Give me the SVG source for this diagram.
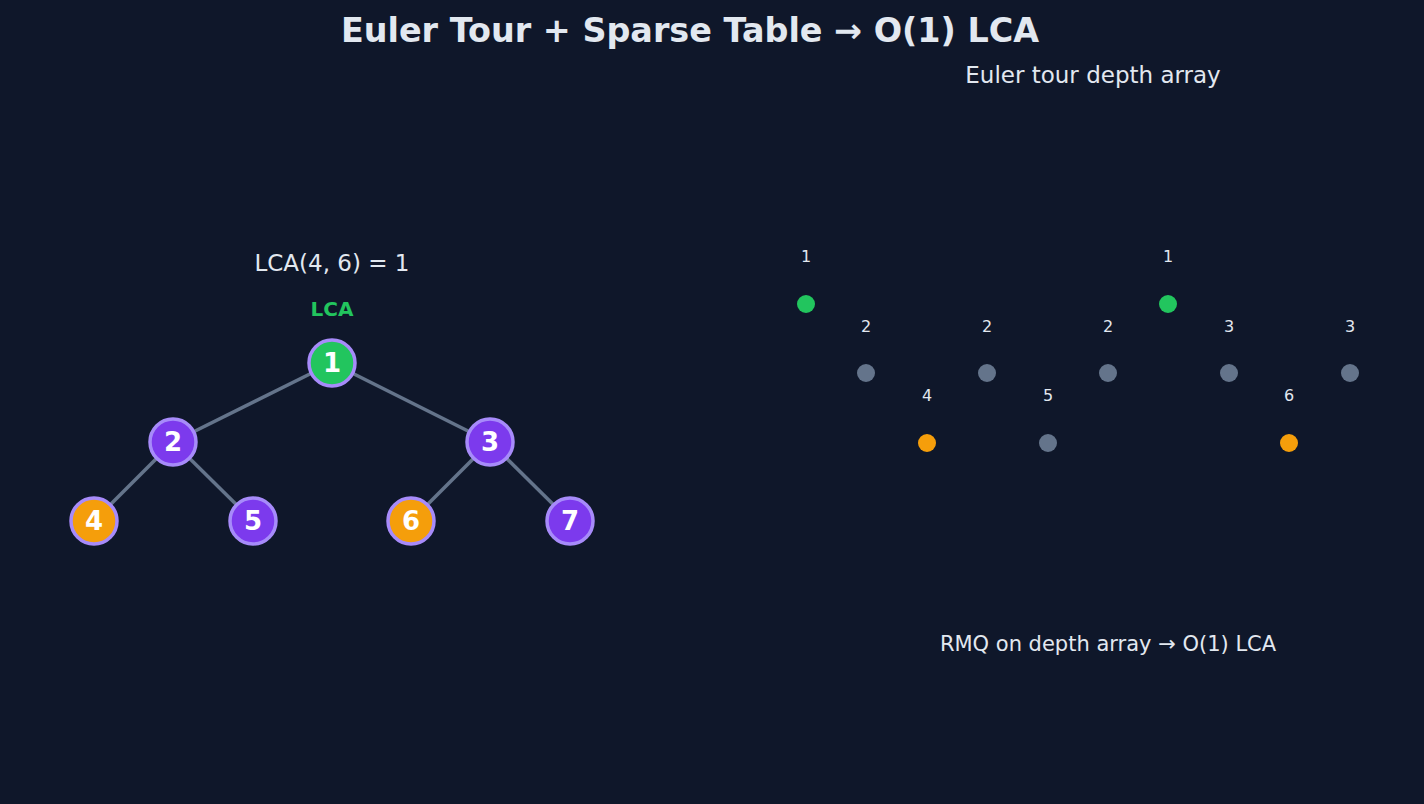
<svg xmlns="http://www.w3.org/2000/svg" width="1424" height="804" viewBox="0 0 1424 804">
<style>
text{font-family:"DejaVu Sans",sans-serif;fill:#e2e8f0}
.n circle{stroke:#a78bfa;stroke-width:3.5}
.n text{font-size:26px;font-weight:bold;fill:#fff;text-anchor:middle}
.e line{stroke:#64748b;stroke-width:3.5}
.d text{font-size:16px;text-anchor:middle}
</style>
<rect width="1424" height="804" fill="#0f172a"/>
<text x="690" y="42" font-size="33.4" font-weight="bold" text-anchor="middle">Euler Tour + Sparse Table → O(1) LCA</text>
<text x="1093" y="83" font-size="23" text-anchor="middle">Euler tour depth array</text>
<text x="332" y="271" font-size="23" text-anchor="middle">LCA(4, 6) = 1</text>
<text x="332" y="316" font-size="20" font-weight="bold" text-anchor="middle" style="fill:#22c55e">LCA</text>
<text x="1108" y="651" font-size="21" text-anchor="middle">RMQ on depth array → O(1) LCA</text>
<g id="edges" class="e">
<line x1="332" y1="363" x2="173" y2="442"/><line x1="332" y1="363" x2="490" y2="442"/>
<line x1="173" y1="442" x2="94" y2="521"/><line x1="173" y1="442" x2="253" y2="521"/>
<line x1="490" y1="442" x2="411" y2="521"/><line x1="490" y1="442" x2="570" y2="521"/>
</g>
<g id="n1" class="n"><circle cx="332" cy="363" r="23" fill="#22c55e"/><text x="332" y="372">1</text></g>
<g id="n2" class="n"><circle cx="173" cy="442" r="23" fill="#7c3aed"/><text x="173" y="451">2</text></g>
<g id="n3" class="n"><circle cx="490" cy="442" r="23" fill="#7c3aed"/><text x="490" y="451">3</text></g>
<g id="n4" class="n"><circle cx="94" cy="521" r="23" fill="#f59e0b"/><text x="94" y="530">4</text></g>
<g id="n5" class="n"><circle cx="253" cy="521" r="23" fill="#7c3aed"/><text x="253" y="530">5</text></g>
<g id="n6" class="n"><circle cx="411" cy="521" r="23" fill="#f59e0b"/><text x="411" y="530">6</text></g>
<g id="n7" class="n"><circle cx="570" cy="521" r="23" fill="#7c3aed"/><text x="570" y="530">7</text></g>
<g id="depth" class="d">
<circle cx="806" cy="304" r="9" fill="#22c55e"/><text x="806" y="262">1</text>
<circle cx="866" cy="373" r="9" fill="#64748b"/><text x="866" y="332">2</text>
<circle cx="927" cy="443" r="9" fill="#f59e0b"/><text x="927" y="401">4</text>
<circle cx="987" cy="373" r="9" fill="#64748b"/><text x="987" y="332">2</text>
<circle cx="1048" cy="443" r="9" fill="#64748b"/><text x="1048" y="401">5</text>
<circle cx="1108" cy="373" r="9" fill="#64748b"/><text x="1108" y="332">2</text>
<circle cx="1168" cy="304" r="9" fill="#22c55e"/><text x="1168" y="262">1</text>
<circle cx="1229" cy="373" r="9" fill="#64748b"/><text x="1229" y="332">3</text>
<circle cx="1289" cy="443" r="9" fill="#f59e0b"/><text x="1289" y="401">6</text>
<circle cx="1350" cy="373" r="9" fill="#64748b"/><text x="1350" y="332">3</text>
</g>
</svg>
